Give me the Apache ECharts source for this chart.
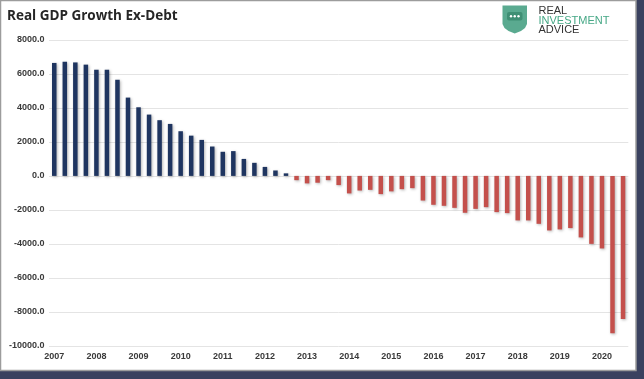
<!DOCTYPE html>
<html>
<head>
<meta charset="utf-8">
<script src="https://cdn.jsdelivr.net/npm/echarts@6/dist/echarts.min.js"></script>
<style>
html,body{margin:0;padding:0;background:#3a415f;}
#chart{width:644px;height:379px;}
</style>
</head>
<body>
<div id="chart"></div>
<script>
// Tick labels (one per year, shown at Q1)
const years = ['2007','2008','2009','2010','2011','2012','2013','2014','2015','2016','2017','2018','2019','2020'];
const quarterNames = ['Q1','Q2','Q3','Q4'];
// Real GDP growth ex-debt, quarterly from 2007 Q1 to 2020 Q3
const gdpExDebt = [
  6650, 6720, 6680, 6550, 6250, 6250, 5660, 4610, 4040, 3610, 3280, 3060,
  2630, 2370, 2120, 1730, 1420, 1460, 1000, 770, 530, 320, 150,
  -250, -440, -400, -250, -540, -1030, -860, -820, -1070, -910, -780, -720,
  -1450, -1700, -1760, -1880, -2170, -1940, -1840, -2130, -2190, -2620, -2620,
  -2820, -3210, -3150, -3070, -3620, -4000, -4270, -9260, -8420
];
const yTicks = { min: -10000, max: 8000, interval: 2000 };

const categories = [];
years.forEach(y => quarterNames.forEach(q => categories.push(y + ' ' + q)));
categories.length = gdpExDebt.length;

const chart = echarts.init(document.getElementById('chart'));
chart.setOption({
  backgroundColor: '#3a415f',
  animation: false,
  title: {
    text: 'Real GDP Growth Ex-Debt',
    left: 2, top: 4,
    textStyle: { fontFamily: 'Open Sans', fontSize: 13.5, fontWeight: 'bold', color: '#262626' }
  },
  graphic: [
    { type: 'rect', z: -10, silent: true,
      shape: { x: 0.5, y: 0.5, width: 635.5, height: 370 },
      style: { fill: '#ffffff', stroke: '#9c9c9c', lineWidth: 1.5 } },
    { type: 'polygon', z: 10, silent: true,
      shape: { points: [[502.5,5.5],[527,5.5],[527,24],[525,28],[521,31],[514.75,33.5],[508.5,31],[504.5,28],[502.5,24]] },
      style: { fill: '#5aaa90' } },
    { type: 'rect', z: 11, silent: true,
      shape: { x: 507, y: 12, width: 15.5, height: 8.5, r: 2 },
      style: { fill: '#3f8f74' } },
    { type: 'circle', z: 12, silent: true, shape: { cx: 511, cy: 16.2, r: 1.2 }, style: { fill: '#ffffff' } },
    { type: 'circle', z: 12, silent: true, shape: { cx: 514.75, cy: 16.2, r: 1.2 }, style: { fill: '#ffffff' } },
    { type: 'circle', z: 12, silent: true, shape: { cx: 518.5, cy: 16.2, r: 1.2 }, style: { fill: '#ffffff' } },
    { type: 'text', z: 12, silent: true, x: 538.5, y: 10.5,
      style: { text: 'REAL', fill: '#333333', font: '11px "Liberation Sans"', verticalAlign: 'middle' } },
    { type: 'text', z: 12, silent: true, x: 538.5, y: 20.5,
      style: { text: 'INVESTMENT', fill: '#46a886', font: '11px "Liberation Sans"', verticalAlign: 'middle' } },
    { type: 'text', z: 12, silent: true, x: 538.5, y: 29.5,
      style: { text: 'ADVICE', fill: '#333333', font: '11px "Liberation Sans"', verticalAlign: 'middle' } }
  ],
  grid: { left: 49, right: 15.7, top: 40, bottom: 33.2, containLabel: false },
  xAxis: {
    type: 'category',
    data: categories,
    position: 'bottom',
    axisLine: { show: false },
    axisTick: { show: false },
    axisLabel: {
      interval: 3,
      margin: 6,
      fontFamily: 'Liberation Sans', fontSize: 9, fontWeight: 'bold', color: '#3a3a3a',
      formatter: v => v.split(' ')[0]
    },
    splitLine: { show: false }
  },
  yAxis: {
    type: 'value',
    min: yTicks.min, max: yTicks.max, interval: yTicks.interval,
    axisLine: { show: false },
    axisTick: { show: false },
    axisLabel: {
      margin: 4.5,
      fontFamily: 'Liberation Sans', fontSize: 9, fontWeight: 'bold', color: '#3a3a3a',
      formatter: v => v.toFixed(1)
    },
    splitLine: { lineStyle: { color: '#e4e4e4', width: 1 } }
  },
  series: [{
    type: 'bar',
    data: gdpExDebt,
    barWidth: 4.5,
    itemStyle: {
      color: p => p.value >= 0 ? '#1f3560' : '#c4504c',
      shadowColor: 'rgba(0,0,0,0.3)',
      shadowBlur: 3,
      shadowOffsetX: 1,
      shadowOffsetY: 1
    }
  }]
});
</script>
</body>
</html>
